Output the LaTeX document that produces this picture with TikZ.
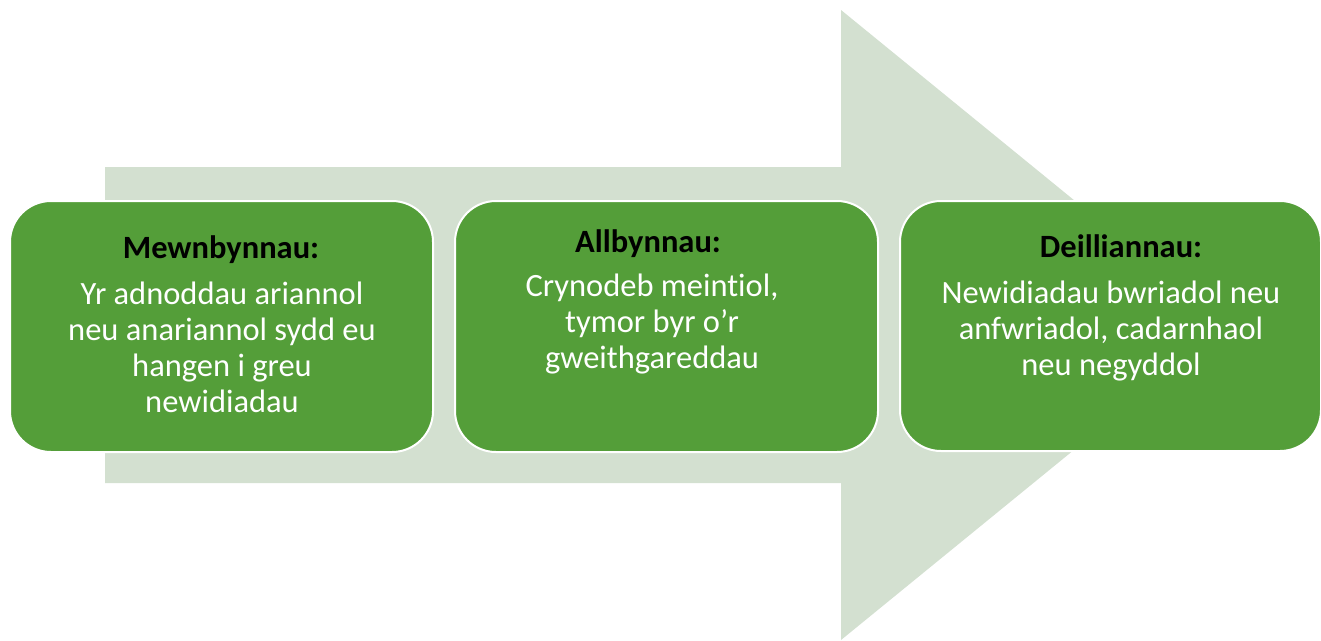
\documentclass[tikz,border=0pt]{standalone}
\usepackage{fontspec}
\setmainfont{Carlito}[Ligatures=NoCommon]
\definecolor{boxgreen}{RGB}{84,158,57}
\definecolor{arrowgreen}{RGB}{211,224,208}
\begin{document}
\begin{tikzpicture}[x=1pt,y=-1pt,
  stagebox/.style={draw=white, line width=2pt, fill=boxgreen, rounded corners=41pt,
    inner sep=0pt, anchor=north west},
  stagetitle/.style={font=\fontsize{32.5}{36}\selectfont\bfseries, text=black, anchor=base, inner sep=0pt},
  stagebody/.style={font=\fontsize{32.5}{36}\selectfont, text=white, align=center, anchor=north, inner sep=0pt}]
\useasboundingbox (0,0) rectangle (1321,640);
% big background arrow
\fill[arrowgreen] (105,167) -- (841,167) -- (841,10) -- (1227,325) -- (841,640)
  -- (841,483) -- (105,483) -- cycle;
% boxes
\node[stagebox, minimum width=423pt, minimum height=251pt] (b1) at (9,200) {};
\node[stagebox, minimum width=423pt, minimum height=251pt] (b2) at (454,200) {};
\node[stagebox, minimum width=421pt, minimum height=250pt] (b3) at (899,200) {};
% texts
\node[stagetitle] (t1) at (221,258) {Mewnbynnau:};
\node[stagebody] (d1) at (222,282) {Yr adnoddau ariannol\\neu anariannol sydd eu\\hangen i greu\\newidiadau};
\node[stagetitle] (t2) at (648,252) {Allbynnau:};
\node[stagebody] (d2) at (652,274) {Crynodeb meintiol,\\tymor byr o’r\\gweithgareddau};
\node[stagetitle] (t3) at (1121,257) {Deilliannau:};
\node[stagebody] (d3) at (1111,281) {Newidiadau bwriadol neu\\anfwriadol, cadarnhaol\\neu negyddol};
\end{tikzpicture}
\end{document}
